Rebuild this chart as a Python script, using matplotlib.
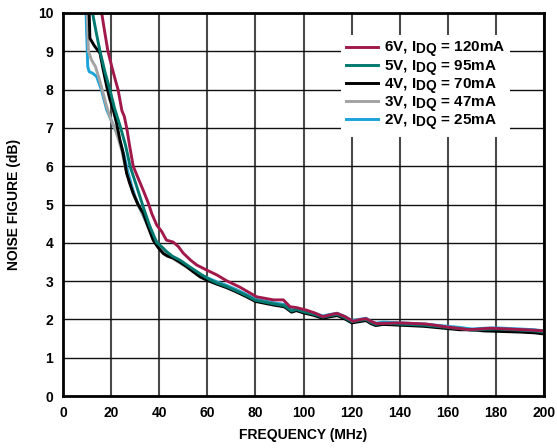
import numpy as np
import matplotlib.pyplot as plt
import matplotlib._mathtext as mathtext_internal

plt.rcParams['font.family'] = ['Liberation Sans', 'DejaVu Sans']
plt.rcParams['font.weight'] = 'bold'
plt.rcParams['mathtext.fontset'] = 'custom'
plt.rcParams['mathtext.rm'] = 'Liberation Sans:bold'
plt.rcParams['mathtext.it'] = 'Liberation Sans:bold'
plt.rcParams['mathtext.bf'] = 'Liberation Sans:bold'
# the datasheet legend uses near full-size subscripts
mathtext_internal.SHRINK_FACTOR = 0.9

# shared tail (all supplies nearly overlap above ~60 MHz)
freq_tail = [64, 68, 72, 76, 80, 84, 88, 92, 95, 97, 100, 104, 108, 111, 114,
             117, 120, 123, 126, 128, 130, 133, 140, 150, 160, 165, 170, 175,
             180, 190, 196, 200]
nf_tail = [2.95, 2.86, 2.75, 2.63, 2.50, 2.45, 2.40, 2.36, 2.22, 2.26, 2.20,
           2.14, 2.06, 2.10, 2.13, 2.05, 1.94, 1.97, 2.00, 1.92, 1.87, 1.90,
           1.88, 1.85, 1.79, 1.76, 1.72, 1.74, 1.75, 1.72, 1.70, 1.67]

freq_6v = [16.1, 17.5, 18.7, 20.5, 22.0, 22.9, 24.5, 25.5, 26.5, 27.8, 29.2,
           31.5, 33.5, 35.4, 37.0, 39.0, 41.0, 43.0, 45.8, 48.0, 50.0, 53.0,
           55.6, 59.7, 64.0, 68.0, 73.6, 80.5, 84.0, 87.4, 91.6, 94.4, 97.0,
           101.3, 105.0, 108.0, 111.0, 113.8, 117.0, 120.6, 123.0, 126.0,
           128.0, 130.4, 135.0, 140.0, 151.0, 161.0, 169.0, 177.5, 188.6,
           195.5, 200.0]
nf_6v = [10.0, 9.45, 9.0, 8.55, 8.2, 8.0, 7.45, 7.3, 7.0, 6.5, 6.0, 5.65,
         5.35, 5.05, 4.75, 4.46, 4.3, 4.07, 4.02, 3.9, 3.73, 3.55, 3.42, 3.29,
         3.16, 3.01, 2.84, 2.59, 2.55, 2.51, 2.51, 2.33, 2.31, 2.24, 2.16,
         2.07, 2.12, 2.16, 2.08, 1.95, 1.99, 2.02, 1.95, 1.89, 1.90, 1.91,
         1.88, 1.79, 1.73, 1.77, 1.74, 1.72, 1.70]

freq_5v = [12.3, 13.8, 15.4, 17.5, 19.5, 21.5, 24.0, 26.0, 27.9, 30.5, 33.3,
           36.0, 39.0, 41.0, 43.1, 45.5, 48.6, 52.0, 55.6, 58.0, 61.0] + freq_tail
nf_5v = [10.0, 9.5, 9.0, 8.45, 8.0, 7.5, 7.0, 6.55, 6.0, 5.5, 4.95, 4.45,
         4.0, 3.9, 3.77, 3.65, 3.55, 3.4, 3.25, 3.15, 3.04] + nf_tail

freq_4v = [10.9, 11.2, 13.0, 15.4, 16.8, 18.2, 19.5, 20.9, 22.3, 23.7, 25.0,
           26.5, 27.8, 29.2, 31.2, 33.4, 35.5, 37.5, 39.5, 41.7, 43.5, 45.9,
           48.5, 51.4, 54.0, 57.0, 60.0] + freq_tail
nf_4v = [10.0, 9.34, 9.15, 8.95, 8.5, 8.08, 7.75, 7.47, 7.12, 6.68, 6.34,
         5.81, 5.55, 5.29, 5.0, 4.77, 4.4, 4.07, 3.88, 3.72, 3.65, 3.6, 3.5,
         3.38, 3.25, 3.11, 3.02] + [v - 0.03 for v in nf_tail[:-6]] + \
        [1.73, 1.70, 1.69, 1.67, 1.65, 1.62]

freq_3v = [10.1, 10.6, 11.9, 13.5, 15.0, 16.5, 18.2, 20.0, 21.5, 23.0, 24.5,
           26.0, 27.5, 29.2, 31.5, 33.5, 36.0, 38.0, 40.0, 42.0, 45.0, 48.0,
           51.0, 55.0, 58.0, 61.0] + freq_tail
nf_3v = [10.0, 9.0, 8.77, 8.6, 8.3, 7.95, 7.55, 7.2, 7.0, 6.72, 6.4, 5.95,
         5.6, 5.3, 4.95, 4.7, 4.35, 4.1, 3.9, 3.76, 3.62, 3.5, 3.38, 3.22,
         3.12, 3.03] + nf_tail

freq_2v = [9.6, 10.3, 10.9, 12.5, 14.0, 16.0, 18.2, 20.9, 22.5, 24.0, 25.5,
           27.0, 28.5, 30.0, 32.0, 34.0, 36.0, 38.0, 40.0, 42.0, 45.0, 48.0,
           51.0, 55.0, 58.0, 61.0] + freq_tail
nf_2v = [10.0, 8.6, 8.47, 8.42, 8.34, 7.99, 7.47, 7.08, 6.85, 6.6, 6.25,
         5.85, 5.5, 5.2, 4.9, 4.62, 4.35, 4.12, 3.92, 3.78, 3.64, 3.52, 3.4,
         3.24, 3.14, 3.06] + [v + 0.03 for v in nf_tail]

series = [
    (freq_2v, nf_2v, '#1CA3DA', r'2V, I$_{\mathrm{DQ}}$ = 25mA'),
    (freq_3v, nf_3v, '#A3A3A3', r'3V, I$_{\mathrm{DQ}}$ = 47mA'),
    (freq_4v, nf_4v, '#000000', r'4V, I$_{\mathrm{DQ}}$ = 70mA'),
    (freq_5v, nf_5v, '#007A70', r'5V, I$_{\mathrm{DQ}}$ = 95mA'),
    (freq_6v, nf_6v, '#A0194A', r'6V, I$_{\mathrm{DQ}}$ = 120mA'),
]

fig = plt.figure(figsize=(5.57, 4.48), dpi=100)
ax = fig.add_axes([0.113, 0.116, 0.864, 0.855])

for f, nf, c, lab in series:
    ax.plot(f, nf, color=c, linewidth=2.1, label=lab, solid_joinstyle='round')

ax.set_xlim(0, 200)
ax.set_ylim(0, 10)
ax.set_xticks(np.arange(0, 201, 20))
ax.set_yticks(np.arange(0, 11, 1))
ax.xaxis.grid(True, color='#4a4a4a', linewidth=1.5)
ax.yaxis.grid(True, color='#111111', linewidth=1.0)
ax.set_axisbelow(True)
ax.tick_params(length=0, labelsize=10, pad=7)
for lbl in ax.get_xticklabels() + ax.get_yticklabels():
    lbl.set_fontweight('bold')
for sp in ax.spines.values():
    sp.set_linewidth(2.0)
    sp.set_color('black')

ax.set_xlabel('FREQUENCY (MHz)', fontsize=10, fontweight='bold', labelpad=6)
ax.set_ylabel('NOISE FIGURE (dB)', fontsize=10, fontweight='bold', labelpad=12)

h, l = ax.get_legend_handles_labels()
leg = ax.legend(h[::-1], l[::-1], loc='upper left', bbox_to_anchor=(0.578, 0.942),
                borderaxespad=0, fontsize=11, frameon=True, facecolor='white',
                edgecolor='none', framealpha=1, fancybox=False, handlelength=2.1,
                handletextpad=0.4, labelspacing=-0.1, borderpad=0.3)
for t in leg.get_texts():
    t.set_fontweight('bold')

fig.savefig('out.png', dpi=100)
